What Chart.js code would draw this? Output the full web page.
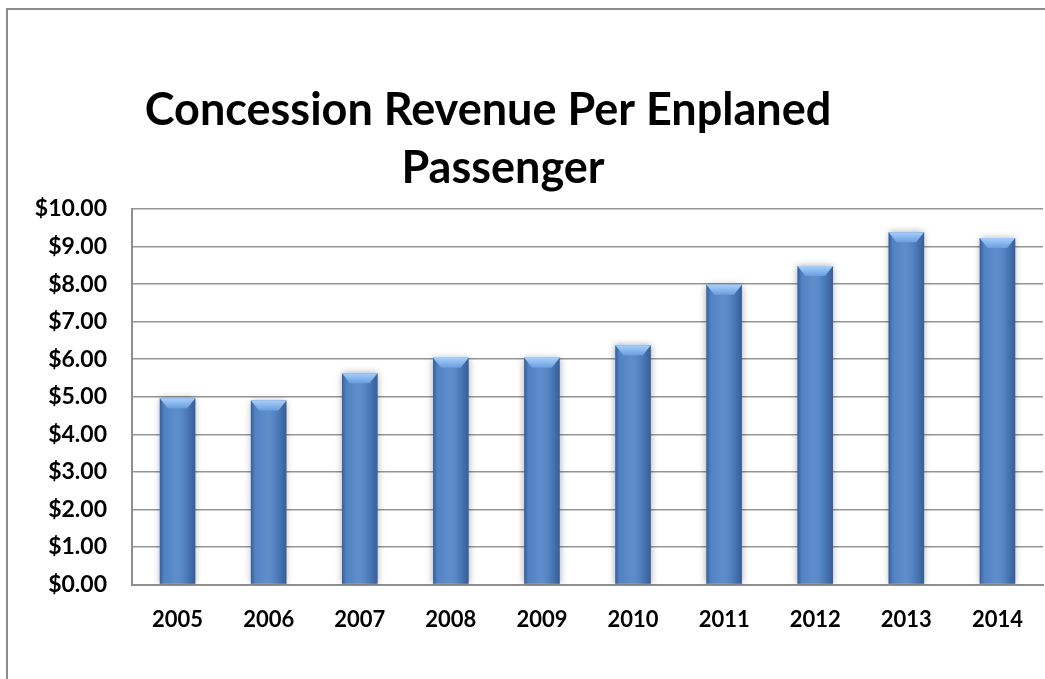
<!DOCTYPE html>
<html>
<head>
<meta charset="utf-8">
<title>Concession Revenue Per Enplaned Passenger</title>
<script src="https://cdn.jsdelivr.net/npm/chart.js@4.4.1/dist/chart.umd.min.js"></script>
<style>
  html, body { margin: 0; padding: 0; background: #fff; overflow: hidden; }
  #frame {
    position: absolute; left: 6px; top: 8px; width: 1100px; height: 720px;
    border-left: 2px solid #8c8c8c; border-top: 2px solid #8c8c8c;
  }
  #wrap { position: absolute; left: 0; top: 0; width: 1045px; height: 679px; }
</style>
</head>
<body>
<div id="frame"></div>
<div id="wrap"><canvas id="revenueChart"></canvas></div>
<script>
const years = ['2005', '2006', '2007', '2008', '2009', '2010', '2011', '2012', '2013', '2014'];
const revenuePerPax = [4.96, 4.90, 5.63, 6.04, 6.04, 6.37, 7.98, 8.48, 9.38, 9.23];
const titleLines = ['Concession Revenue Per Enplaned', 'Passenger'];
const yMin = 0, yMax = 10, yStep = 1;

const FONT = 'Lato, "Open Sans", sans-serif';

// title drawn by hand so it can sit left of the canvas center
const titleBlock = {
    id: 'titleBlock',
    afterDraw(chart, args, opts) {
        const ctx = chart.ctx;
        ctx.save();
        ctx.font = 'bold ' + opts.size + 'px ' + FONT;
        ctx.fillStyle = '#000';
        ctx.textAlign = 'center';
        ctx.textBaseline = 'alphabetic';
        opts.lines.forEach((line, i) => {
            ctx.fillText(line, opts.x[i], opts.y + i * opts.lineGap);
        });
        ctx.restore();
    }
};

// soft shadow under the bars, then cylinder shading and bevelled tops
const barShade = {
    id: 'barShade',
    beforeDatasetsDraw(chart) {
        const ctx = chart.ctx;
        ctx.save();
        ctx.shadowColor = 'rgba(0,0,0,0.35)';
        ctx.shadowBlur = 7;
        ctx.shadowOffsetX = 0;
        ctx.shadowOffsetY = 0;
    },
    afterDatasetsDraw(chart) {
        const ctx = chart.ctx;
        ctx.restore();
        const meta = chart.getDatasetMeta(0);
        ctx.save();
        meta.data.forEach(bar => {
            const w = bar.width, l = bar.x - w / 2, r = bar.x + w / 2;
            const top = bar.y, bottom = bar.base;
            const g = ctx.createLinearGradient(l, 0, r, 0);
            g.addColorStop(0, 'rgba(25,55,105,0.5)');
            g.addColorStop(0.12, 'rgba(25,55,105,0.05)');
            g.addColorStop(0.45, 'rgba(255,255,255,0.06)');
            g.addColorStop(0.75, 'rgba(25,55,105,0.14)');
            g.addColorStop(1, 'rgba(25,55,105,0.5)');
            ctx.fillStyle = g;
            ctx.fillRect(l, top, w, bottom - top);

            const bev = 10, inset = 8;
            const cap = ctx.createLinearGradient(0, top, 0, top + bev);
            cap.addColorStop(0, '#a9cff8');
            cap.addColorStop(1, '#6a9edf');
            ctx.fillStyle = cap;
            ctx.beginPath();
            ctx.moveTo(l, top);
            ctx.lineTo(r, top);
            ctx.lineTo(r - inset, top + bev);
            ctx.lineTo(l + inset, top + bev);
            ctx.closePath();
            ctx.fill();
        });
        ctx.restore();
    }
};

new Chart(document.getElementById('revenueChart'), {
    type: 'bar',
    data: {
        labels: years,
        datasets: [{
            data: revenuePerPax,
            backgroundColor: '#5486c8',
            borderWidth: 0,
            categoryPercentage: 1,
            barPercentage: 0.39
        }]
    },
    options: {
        responsive: true,
        maintainAspectRatio: false,
        animation: false,
        layout: { padding: { top: 209, left: 0, right: 2, bottom: 32 } },
        plugins: {
            legend: { display: false },
            tooltip: { enabled: false },
            title: { display: false },
            titleBlock: { lines: titleLines, size: 45, x: [488, 503], y: 125, lineGap: 58 }
        },
        scales: {
            x: {
                grid: { display: false },
                border: { color: '#8f8f8f', width: 2 },
                ticks: {
                    color: '#000',
                    padding: 14,
                    font: { family: FONT, size: 22, weight: 'bold' }
                }
            },
            y: {
                min: yMin,
                max: yMax,
                afterFit(scale) { scale.width = 132; },
                grid: { color: '#959595', lineWidth: 1.6, drawTicks: false },
                border: { color: '#8f8f8f', width: 2 },
                ticks: {
                    stepSize: yStep,
                    color: '#000',
                    padding: 25,
                    font: { family: FONT, size: 23, weight: 'bold' },
                    callback: v => '$' + v.toFixed(2)
                }
            }
        }
    },
    plugins: [titleBlock, barShade]
});
</script>
</body>
</html>
